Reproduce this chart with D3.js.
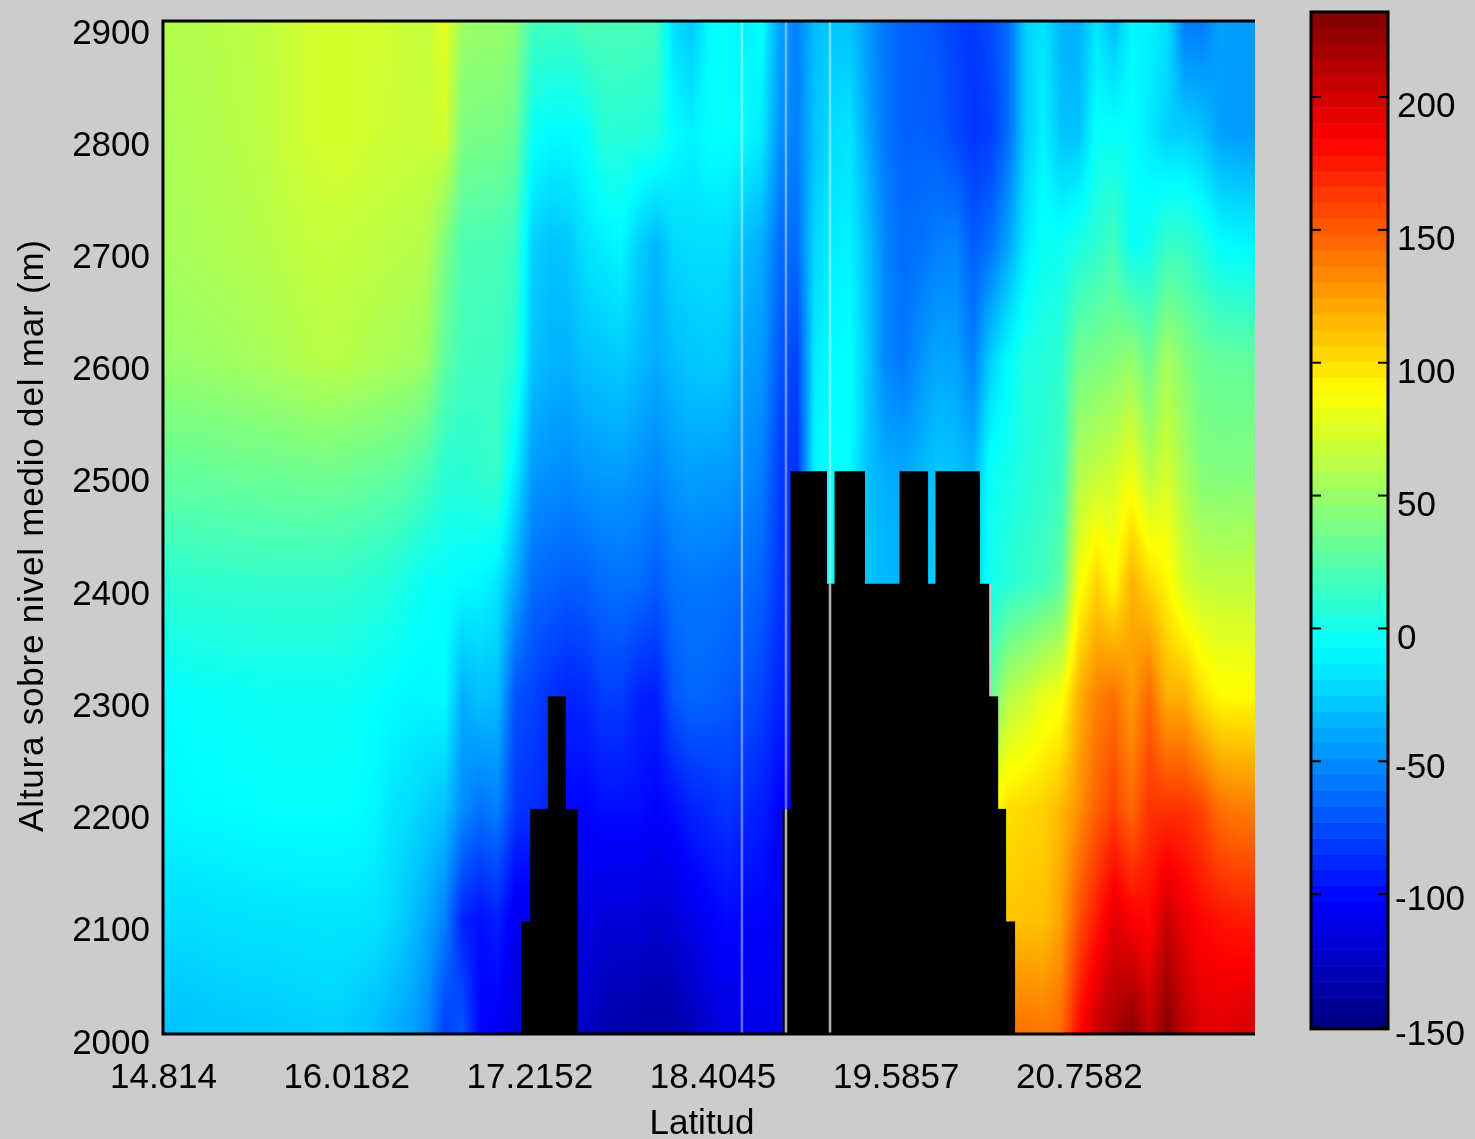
<!DOCTYPE html>
<html>
<head>
<meta charset="utf-8">
<script src="https://cdn.jsdelivr.net/npm/d3@7"></script>
<style>
  body { margin: 0; background: #cccccc; width: 1475px; height: 1139px; overflow: hidden; position: relative; }
  canvas, svg { position: absolute; left: 0; top: 0; }
  text { font-family: "Liberation Sans", Arial, sans-serif; font-size: 35px; fill: #000; }
</style>
</head>
<body>
<script>
'use strict'
//Values, one list per altitude, 63 stations south to north. null = under the terrain
const altitudes = [2000, 2100, 2200, 2300, 2400, 2500, 2600, 2700, 2800, 2900];
const alt2900 = [60,60,60,61,62,63,65,68,70,72,72,72,71,70,68,66,78,52,50,50,45,18,18,16,22,20,20,20,18,-20,-28,-8,-5,-12,-6,-42,-55,-32,-28,-30,-45,-58,-66,-68,-72,-78,-82,-75,-62,-25,-17,-35,-38,-17,-32,-10,-12,-18,-57,-57,-43,-43,-45];
const alt2800 = [57,58,59,60,61,62,64,68,70,72,73,72,70,69,68,68,72,40,38,38,32,-3,-8,-8,-5,8,8,7,5,-7,-12,-6,-6,-8,-15,-48,-55,-30,-20,-17,-40,-58,-66,-66,-68,-76,-83,-80,-62,-25,-12,-30,-30,-5,-5,-6,-15,-25,-25,-30,-42,-45,-45];
const alt2700 = [55,56,57,58,59,60,61,63,65,66,66,65,64,63,62,60,40,22,20,20,15,-25,-30,-28,-18,-14,-10,-25,-35,-22,-20,-20,-20,-32,-38,-62,-62,-22,-14,-12,-30,-52,-62,-60,-55,-53,-68,-60,-40,-15,-3,-3,4,10,18,-4,0,14,14,5,-6,-8,-10];
const alt2600 = [50,50,51,52,53,55,56,58,60,62,62,60,58,56,55,50,28,18,16,16,8,-30,-35,-36,-30,-28,-26,-32,-38,-32,-28,-26,-28,-42,-45,-70,-78,-15,-8,-6,-28,-52,-58,-48,-40,-42,-55,-25,-8,4,6,10,35,38,42,48,32,55,42,33,30,30,30];
const alt2500 = [30,31,31,32,33,33,34,34,35,36,35,33,32,30,26,20,10,8,12,14,-14,-45,-48,-50,-46,-44,-44,-48,-52,-46,-42,-44,-44,-50,-55,-80,-85,-10,-5,-8,-30,-38,-40,-35,-28,-30,-35,-3,0,6,10,15,58,65,70,82,60,72,55,42,40,41,42];
const alt2400 = [10,10,11,11,12,12,12,12,12,12,12,10,8,5,0,-5,-6,-8,-10,-16,-40,-62,-65,-68,-66,-62,-60,-62,-68,-60,-58,-58,-60,-62,-66,-83,-88,-12,-2,-8,-30,-33,-35,-30,-25,-25,-28,0,8,14,18,28,85,105,90,118,103,92,72,66,65,65,65];
const alt2300 = [-7,-6,-5,-5,-4,-4,-3,-3,-3,-3,-3,-4,-6,-8,-10,-10,-8,-38,-30,-32,-72,-78,-85,-90,-88,-80,-80,-90,-92,-70,-64,-65,-68,-72,-78,-90,-90,null,null,null,null,null,null,null,null,null,null,30,62,68,80,85,118,135,142,126,145,118,118,100,90,90,90];
const alt2200 = [-10,-9,-8,-8,-7,-7,-6,-6,-6,-6,-6,-7,-10,-17,-20,-25,-30,-50,-60,-55,-82,-85,-90,-100,-102,-98,-98,-98,-102,-98,-90,-87,-83,-88,-92,-102,-105,null,null,null,null,null,null,null,null,null,null,90,100,103,106,115,130,148,160,144,165,165,165,158,142,138,137];
const alt2100 = [-20,-20,-20,-19,-19,-18,-18,-18,-17,-17,-17,-17,-18,-22,-30,-40,-55,-90,-98,-92,-110,-112,-112,-112,-112,-118,-118,-118,-122,-118,-112,-105,-100,-102,-103,-105,-108,null,null,null,null,null,null,null,null,null,null,105,110,112,112,124,155,175,196,186,182,205,192,182,178,175,175];
const alt2000 = [-32,-30,-29,-28,-28,-27,-27,-26,-26,-25,-25,-28,-31,-38,-42,-52,-80,-70,-102,-106,-115,-118,-120,-124,-126,-132,-135,-136,-138,-136,-130,-120,-116,-112,-110,-112,-112,null,null,null,null,null,null,null,null,null,null,140,142,142,140,145,182,205,216,230,208,230,208,198,196,200,200];
const field = [alt2000, alt2100, alt2200, alt2300, alt2400, alt2500, alt2600, alt2700, alt2800, alt2900];

//Terrain blocks: from station, to station, top altitude
const terrain = [
  [20.34, 20.85, 2100], [20.85, 21.85, 2200], [21.85, 22.84, 2300], [22.84, 23.52, 2200],
  [35.17, 35.63, 2200], [35.63, 37.67, 2500], [37.67, 38.13, 2400], [38.13, 39.83, 2500],
  [39.83, 41.82, 2400], [41.82, 43.41, 2500], [43.41, 43.86, 2400], [43.86, 46.36, 2500],
  [46.36, 46.88, 2400], [46.88, 47.39, 2300], [47.39, 47.84, 2200], [47.84, 48.35, 2100]
];
//Missing stations, drawn as thin grey lines
const gaps = [32.87, 35.37, 37.87];

const latStations = [0, 10.4, 20.8, 31.2, 41.6, 52];
const latLabels = ["14.814", "16.0182", "17.2152", "18.4045", "19.5857", "20.7582"];
const altTicks = altitudes;
const barTicks = [-150, -100, -50, 0, 50, 100, 150, 200];

const w = 1475, h = 1139;
const left = 163, right = 1255, top_ = 21, bottom = 1034;

const xScale = d3.scaleLinear().domain([0, 62]).range([left, right]);
const yScale = d3.scaleLinear().domain([2000, 2900]).range([bottom, top_]);
const yLabelScale = d3.scaleLinear().domain([2000, 2900]).range([1053, 43]);
const barScale = d3.scaleLinear().domain([-150, 200]).range([1027, 97]);
const barLabelScale = d3.scaleLinear().domain([-150, -100, -50, 0, 200]).range([1045, 910, 778, 648.5, 116.5]);

//jet
const clamp = v => Math.max(0, Math.min(1, v));
const jetAt = f => [clamp(1.5 - Math.abs(4 * f - 3)), clamp(1.5 - Math.abs(4 * f - 2)), clamp(1.5 - Math.abs(4 * f - 1))]
  .map(c => Math.round(c * 255));
const jet = d3.range(64).map(i => jetAt((i + 0.5) / 64));
const cMin = -150.7, cMax = 232;
const color = d3.scaleQuantize().domain([cMin, cMax]).range(d3.range(1024).map(i => jetAt((i + 0.5) / 1024)));

//Image, interpolated between the stations and altitudes like shading interp
const cw = right - left, ch = bottom - top_;
const canvas = d3.select("body").append("canvas")
  .attr("width", cw).attr("height", ch)
  .style("left", left + "px").style("top", top_ + "px");
const ctx = canvas.node().getContext("2d");
const img = ctx.createImageData(cw, ch);
for (let py = 0; py < ch; py++) {
  const a = (yScale.invert(top_ + py + 0.5) - 2000) / 100;
  const r0 = Math.min(8, Math.floor(a)), ty = a - r0;
  for (let px = 0; px < cw; px++) {
    const s = xScale.invert(left + px + 0.5);
    const c0 = Math.min(61, Math.floor(s)), tx = s - c0;
    const q = [field[r0][c0], field[r0][c0 + 1], field[r0 + 1][c0], field[r0 + 1][c0 + 1]];
    if (q.includes(null)) continue;
    const v = (q[0] * (1 - tx) + q[1] * tx) * (1 - ty) + (q[2] * (1 - tx) + q[3] * tx) * ty;
    const rgb = color(v), k = (py * cw + px) * 4;
    img.data[k] = rgb[0]; img.data[k + 1] = rgb[1]; img.data[k + 2] = rgb[2]; img.data[k + 3] = 255;
  }
}
ctx.putImageData(img, 0, 0);

const svg = d3.select("body").append("svg").attr("width", w).attr("height", h);

//Gaps above the terrain
svg.append("g").selectAll("line").data(gaps).enter().append("line")
  .attr("x1", d => xScale(d)).attr("x2", d => xScale(d))
  .attr("y1", top_).attr("y2", bottom)
  .attr("stroke", "#666666").attr("stroke-width", 2.5)
  .style("mix-blend-mode", "screen");

//Terrain
svg.append("g").selectAll("rect").data(terrain).enter().append("rect")
  .attr("x", d => xScale(d[0]))
  .attr("width", d => xScale(d[1]) - xScale(d[0]) + 0.5)
  .attr("y", d => yScale(d[2]))
  .attr("height", d => bottom - yScale(d[2]))
  .attr("fill", "#000");

//Gaps where they run through the terrain
const terrainTop = s => { const b = terrain.find(d => s >= d[0] && s < d[1]); return b ? b[2] : null; };
svg.append("g").selectAll("line").data(gaps.filter(d => terrainTop(d) !== null)).enter().append("line")
  .attr("x1", d => xScale(d)).attr("x2", d => xScale(d))
  .attr("y1", d => yScale(terrainTop(d))).attr("y2", bottom)
  .attr("stroke", "#b4b4b4").attr("stroke-width", 2.5);

//Frame: left, top, bottom only
svg.append("path")
  .attr("d", `M${right},${top_}H${left}V${bottom}H${right}`)
  .attr("fill", "none").attr("stroke", "#000").attr("stroke-width", 3);

//Axes
const yAxis = d3.axisLeft(yLabelScale).tickValues(altTicks).tickSize(0).tickPadding(0).tickFormat(d3.format("d"));
const gy = svg.append("g").attr("transform", "translate(150,0)").call(yAxis);
gy.select(".domain").remove();
gy.selectAll("text").attr("dy", 0).attr("x", 0).style("font-size", "35px").style("font-family", null);

const xAxis = d3.axisBottom(xScale).tickValues(latStations).tickSize(0).tickPadding(0).tickFormat((d, i) => latLabels[i]);
const gx = svg.append("g").attr("transform", "translate(0,1088)").call(xAxis);
gx.select(".domain").remove();
gx.selectAll("text").attr("dy", 0).attr("y", 0).style("font-size", "35px").style("font-family", null);

//Axis titles
svg.append("text").attr("x", 702).attr("y", 1134).attr("text-anchor", "middle").text("Latitud");
svg.append("text").attr("transform", "translate(43,536) rotate(-90)").attr("text-anchor", "middle")
  .attr("textLength", 592).attr("lengthAdjust", "spacing")
  .text("Altura sobre nivel medio del mar (m)");

//Colorbar
const barLeft = 1311, barRight = 1388, barTop = barScale(cMax), barBottom = barScale(cMin);
const bands = d3.range(64);
const bandValue = d3.scaleLinear().domain([0, 64]).range([cMin, cMax]);
svg.append("g").selectAll("rect").data(bands).enter().append("rect")
  .attr("x", barLeft).attr("width", barRight - barLeft)
  .attr("y", d => barScale(bandValue(d + 1)))
  .attr("height", d => barScale(bandValue(d)) - barScale(bandValue(d + 1)) + 0.5)
  .attr("fill", d => `rgb(${jet[d].join(",")})`);
svg.append("rect").attr("x", barLeft).attr("y", barTop)
  .attr("width", barRight - barLeft).attr("height", barBottom - barTop)
  .attr("fill", "none").attr("stroke", "#000").attr("stroke-width", 3);

const barG = svg.append("g").selectAll("g").data(barTicks).enter().append("g");
barG.append("line").attr("x1", barLeft).attr("x2", barLeft + 10)
  .attr("y1", d => barScale(d)).attr("y2", d => barScale(d)).attr("stroke", "#000").attr("stroke-width", 2);
barG.append("line").attr("x1", barRight - 10).attr("x2", barRight)
  .attr("y1", d => barScale(d)).attr("y2", d => barScale(d)).attr("stroke", "#000").attr("stroke-width", 2);
barG.append("text").attr("x", d => d < 0 ? 1395 : 1397).attr("y", d => barLabelScale(d)).text(d => d);
</script>
</body>
</html>
